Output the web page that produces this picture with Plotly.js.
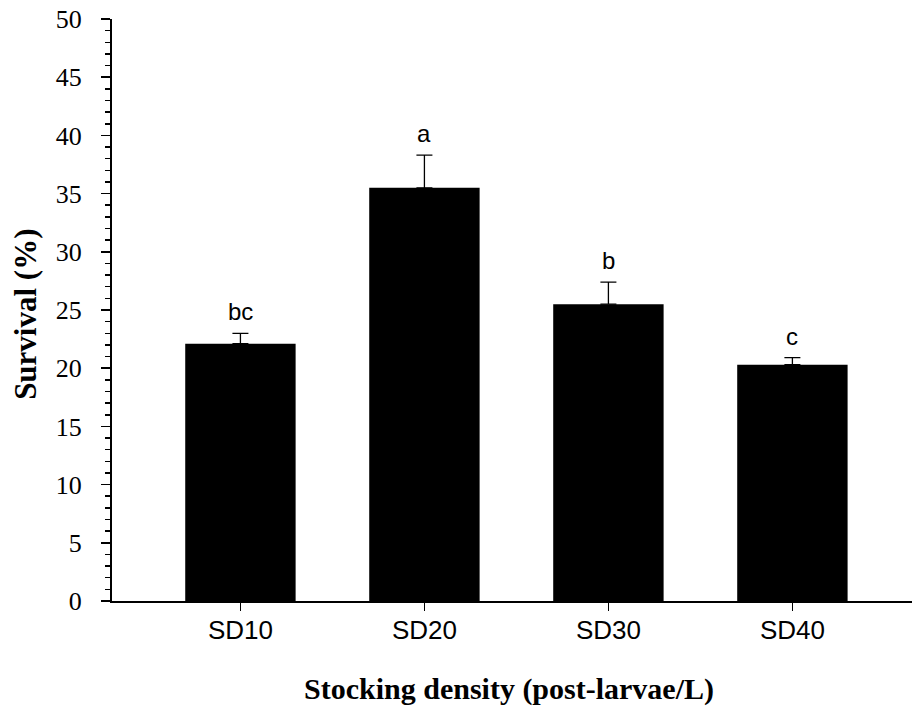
<!DOCTYPE html>
<html>
<head>
<meta charset="utf-8">
<script src="https://cdn.plot.ly/plotly-3.0.1.min.js"></script>
<style>html,body{margin:0;padding:0;background:#fff}#chart{width:912px;height:706px}</style>
</head>
<body>
<div id="chart"></div>
<script>
var categories = ["SD10", "SD20", "SD30", "SD40"];
var survival = [22.1, 35.5, 25.5, 20.3];
var errorUp = [0.9, 2.8, 1.9, 0.6];
var letters = ["bc", "a", "b", "c"];
var yTickVals = [0, 5, 10, 15, 20, 25, 30, 35, 40, 45, 50];
var xTitle = "Stocking density (post-larvae/L)";
var yTitle = "Survival (%)";

var trace = {
  type: "bar",
  x: categories,
  y: survival,
  width: 0.6,
  marker: {color: "#000", line: {width: 0}},
  error_y: {
    type: "data",
    symmetric: false,
    array: errorUp,
    arrayminus: errorUp.map(function(){return 0;}),
    color: "#000",
    thickness: 1.3,
    width: 8
  },
  hoverinfo: "skip"
};

var annotations = categories.map(function(c, i){
  return {
    x: c, y: survival[i] + errorUp[i], xref: "x", yref: "y",
    text: letters[i], showarrow: false, yanchor: "bottom", yshift: 6,
    font: {family: "Liberation Sans, Arial, sans-serif", size: 24, color: "#000"}
  };
});
annotations.push({
  xref: "paper", yref: "paper", x: -0.109, y: 0.493,
  text: "<b>" + yTitle + "</b>", textangle: -90, showarrow: false,
  xanchor: "center", yanchor: "middle",
  font: {family: "Liberation Serif, Times New Roman, serif", size: 31, color: "#000"}
});
annotations.push({
  xref: "paper", yref: "paper", x: 0.496, y: -0.151,
  text: "<b>" + xTitle + "</b>", showarrow: false,
  xanchor: "center", yanchor: "middle",
  font: {family: "Liberation Serif, Times New Roman, serif", size: 30, color: "#000"}
});

var layout = {
  width: 912, height: 706,
  margin: {l: 112, r: 0, t: 19, b: 105},
  paper_bgcolor: "#fff", plot_bgcolor: "#fff",
  showlegend: false,
  xaxis: {
    type: "category",
    range: [-0.698, 3.65],
    showline: true, linecolor: "#000", linewidth: 2,
    ticks: "outside", ticklen: 8, tickwidth: 1.5, tickcolor: "#000",
    ticklabelstandoff: -3,
    showgrid: false, zeroline: false,
    tickfont: {family: "Liberation Sans, Arial, sans-serif", size: 26, color: "#000"},
    fixedrange: true
  },
  yaxis: {
    range: [0, 50],
    tickvals: yTickVals,
    showline: true, linecolor: "#000", linewidth: 2,
    ticks: "outside", ticklen: 9, tickwidth: 1.5, tickcolor: "#000",
    ticklabelstandoff: 14,
    minor: {dtick: 1, ticks: "outside", ticklen: 5, tickwidth: 1.5, tickcolor: "#000"},
    showgrid: false, zeroline: false,
    tickfont: {family: "Liberation Serif, Times New Roman, serif", size: 26, color: "#000"},
    fixedrange: true
  },
  annotations: annotations
};

Plotly.newPlot("chart", [trace], layout, {displayModeBar: false, staticPlot: true});
</script>
</body>
</html>
